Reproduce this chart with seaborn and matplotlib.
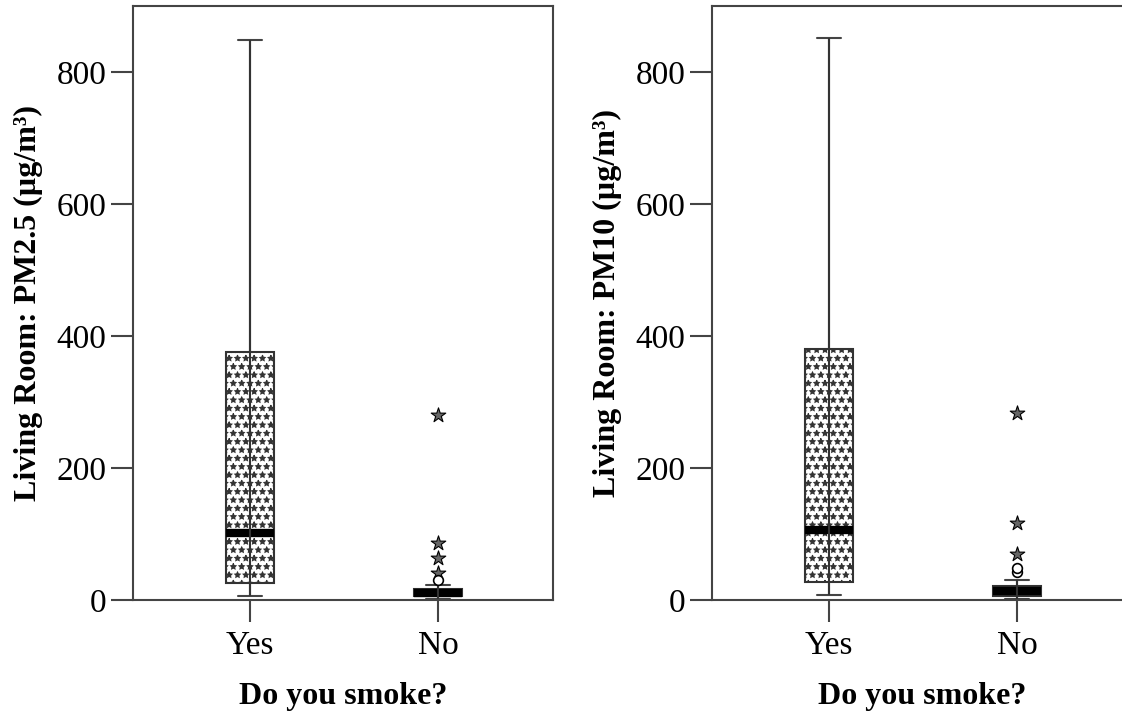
import numpy as np
import pandas as pd
import matplotlib.pyplot as plt
import seaborn as sns

sns.set_style("ticks")
plt.rcParams['font.family'] = ['Liberation Serif', 'DejaVu Serif']
plt.rcParams['hatch.linewidth'] = 0.8
plt.rcParams['text.color'] = 'black'
plt.rcParams['axes.labelcolor'] = 'black'

groups = ["Yes", "No"]

# five-number summaries (min, Q1, median, Q3, max)
pm25_yes = [6, 26, 101, 376, 848]
pm25_no = [1, 6, 10, 17, 23]
pm10_yes = [8, 27, 106, 380, 852]
pm10_no = [2, 6, 13, 21, 30]

# outliers (No group only): circles = outliers, stars = extremes
pm25_circles = [30]
pm25_stars = [41, 64, 86, 280]
pm10_circles = [42, 48]
pm10_stars = [70, 117, 283]

panels = [
    ("Living Room: PM2.5 (µg/m³)", pm25_yes, pm25_no, pm25_circles, pm25_stars),
    ("Living Room: PM10 (µg/m³)", pm10_yes, pm10_no, pm10_circles, pm10_stars),
]

fig = plt.figure(figsize=(11.22, 7.17), dpi=100)
lefts = [133 / 1122, 712 / 1122]

for left, (ylabel, yes_vals, no_vals, circles, stars) in zip(lefts, panels):
    ax = fig.add_axes([left, 1 - 600 / 717, 420 / 1122, 594 / 717])
    df = pd.DataFrame({
        "smoke": ["Yes"] * len(yes_vals) + ["No"] * len(no_vals),
        "value": yes_vals + no_vals,
    })
    sns.boxplot(data=df, x="smoke", y="value", order=groups, ax=ax,
                width=0.255, whis=(0, 100), showfliers=False,
                color="white", linecolor="#444444", linewidth=1.5,
                medianprops=dict(color="black", linewidth=6, solid_capstyle="butt"))
    for patch in ax.patches:
        patch.set_hatch("**")
        patch.set_edgecolor("#333333")

    # whisker line runs through the box, as in SPSS output
    lows = [min(yes_vals), min(no_vals)]
    highs = [max(yes_vals), max(no_vals)]
    ax.vlines(range(len(groups)), lows, highs, color="#333333", linewidth=1.5, zorder=2.5)

    out = pd.DataFrame({"smoke": ["No"] * len(stars), "value": stars})
    sns.stripplot(data=out, x="smoke", y="value", order=groups, ax=ax, jitter=False,
                  marker="*", size=11, color="#666666", edgecolor="black", linewidth=0.8,
                  zorder=4)
    outc = pd.DataFrame({"smoke": ["No"] * len(circles), "value": circles})
    sns.stripplot(data=outc, x="smoke", y="value", order=groups, ax=ax, jitter=False,
                  marker="o", size=7, color="white", edgecolor="black", linewidth=1.2,
                  zorder=4)

    ax.set_xlim(-0.62, 1.61)
    ax.set_ylim(0, 900)
    ax.set_yticks([0, 200, 400, 600, 800])
    ax.set_xlabel("Do you smoke?", fontsize=23, fontweight="bold", labelpad=15)
    ax.set_ylabel(ylabel, fontsize=23, fontweight="bold", labelpad=10)
    ax.tick_params(axis="both", direction="out", length=16, width=1.5, color="#444444",
                   labelcolor="black", labelsize=24, pad=3)
    ax.tick_params(axis="x", pad=6)
    for s in ax.spines.values():
        s.set_visible(True)
        s.set_color("#444444")
        s.set_linewidth(1.5)

plt.savefig("out.png", dpi=100)
